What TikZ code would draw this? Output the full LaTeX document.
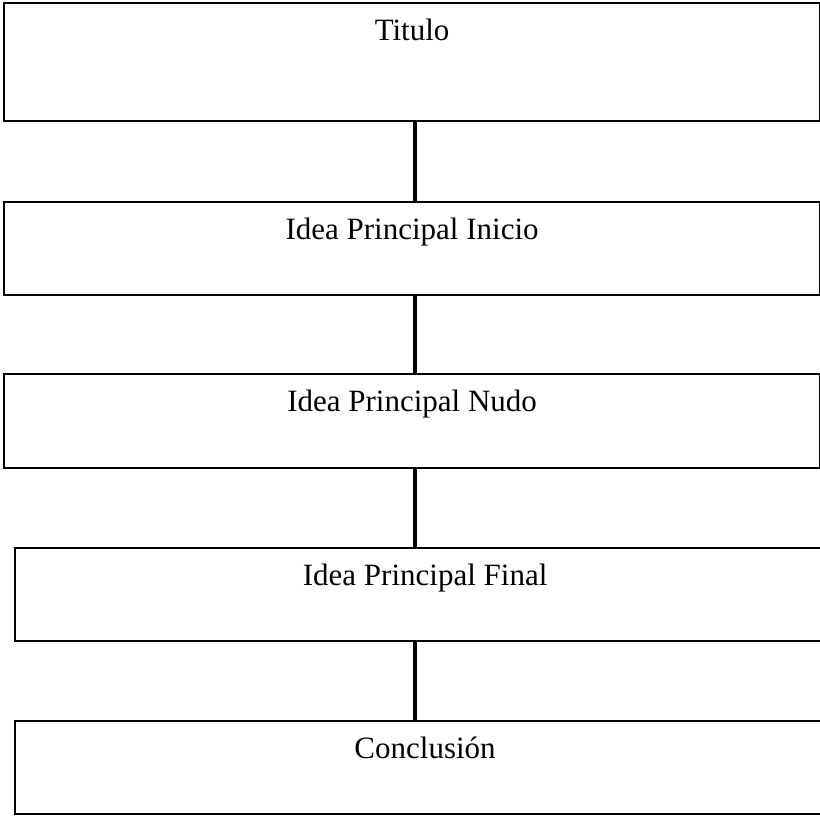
\documentclass[tikz,border=0pt]{standalone}
\usepackage{fontspec}
\setmainfont{Liberation Serif}
\begin{document}
\begin{tikzpicture}[x=1pt,y=-1pt,
  boxnode/.style={draw=black, line width=2.2pt, rectangle, inner sep=0pt, anchor=north west,
    font=\fontsize{31}{37}\selectfont, text height=37pt},
  link/.style={draw=black, line width=4.5pt}]
\useasboundingbox (0,0) rectangle (820,816);
\node[boxnode, minimum width=816pt, minimum height=118pt, text depth=81pt] (b1) at (3,2) {Titulo};
\node[boxnode, minimum width=816pt, minimum height=93pt, text depth=56pt] (b2) at (3,201) {Idea Principal Inicio};
\node[boxnode, minimum width=816pt, minimum height=94pt, text depth=57pt] (b3) at (3,373) {Idea Principal Nudo};
\node[boxnode, minimum width=820pt, minimum height=93pt, text depth=56pt] (b4) at (14,547) {Idea Principal Final};
\node[boxnode, minimum width=820pt, minimum height=93pt, text depth=56pt] (b5) at (14,720) {Conclusión};
\coordinate (cx) at (415,0);
\draw[link] (b1.south -| cx) -- (b2.north -| cx);
\draw[link] (b2.south -| cx) -- (b3.north -| cx);
\draw[link] (b3.south -| cx) -- (b4.north -| cx);
\draw[link] (b4.south -| cx) -- (b5.north -| cx);
\end{tikzpicture}
\end{document}
